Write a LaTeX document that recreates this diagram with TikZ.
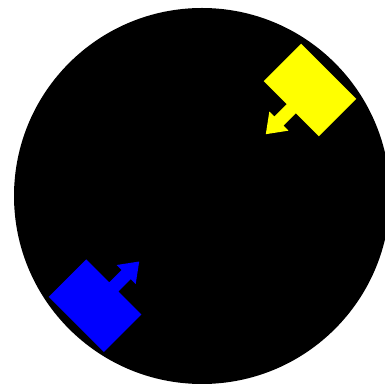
\documentclass[tikz,border=0pt]{standalone}
\usepackage{tikz}
\definecolor{botyellow}{RGB}{255,255,0}
\definecolor{botblue}{RGB}{0,0,255}

\newcommand{\robotpath}{(-26.5,-39) -- (26.5,-39) -- (26.5,-6.5) -- (44,-6.5) -- (44,-13.5) -- (62.5,0) -- (44,13.5) -- (44,6.5) -- (26.5,6.5) -- (26.5,39) -- (-26.5,39) -- cycle}

\begin{document}
\begin{tikzpicture}[
  x=1pt, y=1pt,
  arena/.style={fill=black},
  robotY/.style={fill=botyellow},
  robotB/.style={fill=botblue}
]

\useasboundingbox (0,0) rectangle (384,387);
\fill[white] (0,0) rectangle (384,387);

% arena
\fill[arena] (202,191) circle (188);

% robots
\fill[robotY, shift={(310,297)}, rotate=225] \robotpath;
\fill[robotB, shift={(95,81.3)}, rotate=45] \robotpath;

\end{tikzpicture}
\end{document}
